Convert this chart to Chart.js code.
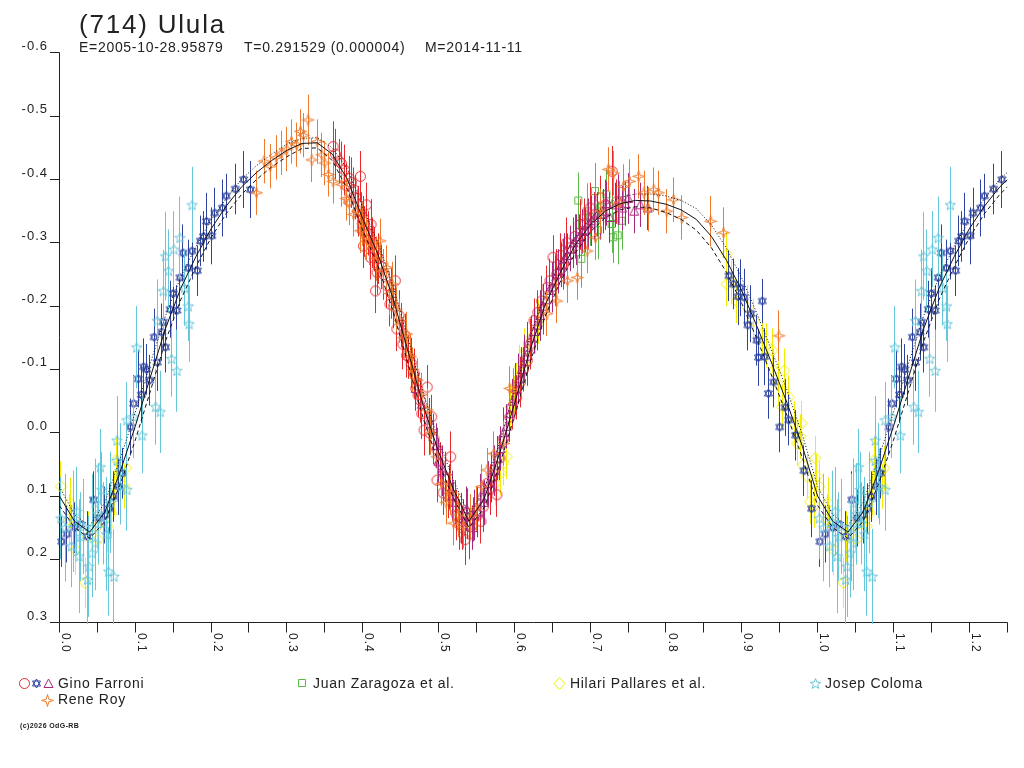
<!DOCTYPE html>
<html lang="es">
<head>
<meta charset="utf-8">
<title>(714) Ulula</title>
<script src="https://cdn.jsdelivr.net/npm/chart.js@4.4.1/dist/chart.umd.min.js"></script>
<style>
  body { margin: 0; background: #fff; }
  #lienzo { position: relative; width: 1024px; height: 768px; overflow: hidden;
            font-family: "Liberation Sans", Arial, sans-serif; color: #222; }
  #grafico { position: absolute; left: 0; top: 0; }
  .texto { position: absolute; white-space: nowrap; line-height: 1; }
  .titulo { left: 79px; top: 11px; font-size: 26px; letter-spacing: 1.8px; }
  .subtitulo { top: 40px; font-size: 14px; letter-spacing: 0.7px; }
  .leyenda { font-size: 14px; letter-spacing: 0.7px; }
  .copy { left: 20px; top: 722px; font-size: 7px; font-weight: bold; letter-spacing: 0.4px; }
  .simbolo { position: absolute; }
</style>
</head>
<body>
<div id="lienzo">
  <canvas id="grafico" width="1024" height="768"></canvas>
  <div class="texto titulo">(714) Ulula</div>
  <div class="texto subtitulo" style="left:79px">E=2005-10-28.95879</div>
  <div class="texto subtitulo" style="left:244px">T=0.291529 (0.000004)</div>
  <div class="texto subtitulo" style="left:425px">M=2014-11-11</div>
  <div class="texto leyenda" style="left:58px;top:676px">Gino Farroni</div>
  <div class="texto leyenda" style="left:58px;top:692px">Rene Roy</div>
  <div class="texto leyenda" style="left:313px;top:676px">Juan Zaragoza et al.</div>
  <div class="texto leyenda" style="left:570px;top:676px">Hilari Pallares et al.</div>
  <div class="texto leyenda" style="left:825px;top:676px">Josep Coloma</div>
  <div class="texto copy">(c)2026 OdG-RB</div>
</div>
<script>
// curva de ajuste (fase, magnitud) y su banda
const fasesAjuste = [0.00, 0.02, 0.04, 0.06, 0.08, 0.10, 0.12, 0.14, 0.16, 0.18,
  0.20, 0.22, 0.24, 0.26, 0.28, 0.30, 0.32, 0.34, 0.36, 0.38,
  0.40, 0.42, 0.44, 0.46, 0.48, 0.50, 0.52, 0.54, 0.56, 0.58,
  0.60, 0.62, 0.64, 0.66, 0.68, 0.70, 0.72, 0.74, 0.76, 0.78,
  0.80, 0.82, 0.84, 0.86, 0.88, 0.90, 0.92, 0.94, 0.96, 0.98, 1.00];
const magAjuste = [0.100, 0.140, 0.157, 0.125, 0.062, -0.010, -0.088, -0.165, -0.228, -0.278,
  -0.322, -0.358, -0.388, -0.411, -0.430, -0.446, -0.457, -0.458, -0.440, -0.400,
  -0.338, -0.282, -0.212, -0.128, -0.042, 0.030, 0.090, 0.140, 0.105, 0.035,
  -0.045, -0.128, -0.200, -0.252, -0.296, -0.328, -0.350, -0.362, -0.367, -0.366,
  -0.361, -0.352, -0.337, -0.310, -0.272, -0.224, -0.168, -0.108, -0.046, 0.022, 0.100];
const magAjusteSup = [0.085, 0.130, 0.147, 0.110, 0.042, -0.032, -0.110, -0.185, -0.246, -0.294,
  -0.336, -0.370, -0.400, -0.422, -0.440, -0.456, -0.465, -0.466, -0.450, -0.416,
  -0.356, -0.300, -0.232, -0.148, -0.062, 0.012, 0.076, 0.130, 0.091, 0.017,
  -0.065, -0.148, -0.218, -0.267, -0.309, -0.339, -0.360, -0.372, -0.377, -0.377,
  -0.374, -0.367, -0.354, -0.328, -0.291, -0.244, -0.188, -0.128, -0.066, 0.004, 0.085];
const magAjusteInf = [0.115, 0.150, 0.167, 0.140, 0.082, 0.012, -0.066, -0.145, -0.210, -0.262,
  -0.308, -0.346, -0.376, -0.400, -0.420, -0.436, -0.449, -0.450, -0.430, -0.384,
  -0.320, -0.264, -0.192, -0.108, -0.022, 0.048, 0.104, 0.150, 0.119, 0.053,
  -0.025, -0.108, -0.182, -0.237, -0.283, -0.317, -0.340, -0.352, -0.357, -0.355,
  -0.348, -0.337, -0.320, -0.292, -0.253, -0.204, -0.148, -0.088, -0.026, 0.040, 0.115];

// observaciones: [fase, magnitud, error]
const farroniCirculos = [[0.361,-0.452,0.040],[0.369,-0.429,0.035],[0.382,-0.402,0.035],[0.397,-0.405,0.040],
  [0.388,-0.384,0.035],[0.405,-0.360,0.035],[0.382,-0.366,0.035],[0.401,-0.339,0.035],[0.411,-0.329,0.040],
  [0.401,-0.295,0.035],[0.410,-0.277,0.035],[0.419,-0.253,0.035],[0.417,-0.224,0.035],[0.443,-0.240,0.040],
  [0.436,-0.203,0.035],[0.445,-0.164,0.035],[0.456,-0.153,0.035],[0.458,-0.122,0.035],[0.468,-0.093,0.040],
  [0.470,-0.070,0.035],[0.485,-0.072,0.035],[0.476,-0.051,0.035],[0.491,-0.025,0.035],[0.481,-0.004,0.040],
  [0.498,0.027,0.035],[0.516,0.038,0.040],[0.498,0.075,0.035],[0.506,0.095,0.035],[0.520,0.117,0.040],
  [0.535,0.169,0.040],[0.546,0.137,0.035],[0.559,0.117,0.040],[0.577,0.098,0.035],[0.564,0.080,0.035],
  [0.573,0.059,0.035],[0.594,-0.025,0.040],[0.603,-0.056,0.035],[0.617,-0.114,0.040],[0.626,-0.177,0.035],
  [0.636,-0.208,0.040],[0.643,-0.229,0.035],[0.651,-0.277,0.035],[0.665,-0.266,0.040],[0.674,-0.292,0.035],
  [0.687,-0.329,0.040],[0.700,-0.355,0.040],[0.714,-0.371,0.035],[0.729,-0.413,0.040],[0.528,0.145,0.040],
  [0.552,0.130,0.035],[0.541,0.160,0.040],
  [0.364,-0.440,0.040],[0.372,-0.425,0.035],[0.376,-0.415,0.040],[0.379,-0.390,0.035],[0.385,-0.395,0.040],
  [0.391,-0.372,0.035],[0.394,-0.350,0.040],[0.398,-0.345,0.035],[0.403,-0.318,0.040],[0.407,-0.315,0.035],
  [0.413,-0.300,0.040],[0.416,-0.290,0.035],[0.421,-0.275,0.040],[0.425,-0.262,0.035],[0.428,-0.250,0.040],
  [0.432,-0.232,0.035],[0.438,-0.220,0.040],[0.441,-0.200,0.035],[0.448,-0.185,0.040],[0.451,-0.170,0.035],
  [0.453,-0.140,0.040],[0.461,-0.120,0.035],[0.464,-0.110,0.040],[0.473,-0.060,0.035],[0.478,-0.030,0.040],
  [0.488,0.000,0.035],[0.494,0.010,0.040],[0.502,0.050,0.035],[0.509,0.070,0.040],[0.513,0.100,0.035],
  [0.524,0.130,0.040],[0.531,0.150,0.035],[0.538,0.128,0.040],[0.556,0.140,0.035],[0.568,0.090,0.040],
  [0.581,0.040,0.035],[0.586,0.010,0.040],[0.597,-0.040,0.035],[0.608,-0.080,0.040],[0.612,-0.100,0.035],
  [0.621,-0.140,0.040],[0.631,-0.190,0.035],[0.639,-0.195,0.040],[0.647,-0.240,0.035],[0.656,-0.250,0.040],
  [0.661,-0.280,0.035],[0.669,-0.300,0.040],[0.680,-0.310,0.035],[0.693,-0.330,0.040],[0.706,-0.345,0.035],
  [0.720,-0.360,0.040],[0.735,-0.365,0.035]];
const farroniEstrellas = [[0.243,-0.400,0.045],[0.252,-0.384,0.045],[0.220,-0.374,0.035],[0.205,-0.347,0.040],
  [0.194,-0.334,0.045],[0.201,-0.311,0.045],[0.186,-0.303,0.040],[0.175,-0.287,0.045],[0.163,-0.284,0.045],
  [0.182,-0.256,0.040],[0.159,-0.245,0.045],[0.146,-0.195,0.045],[0.155,-0.193,0.040],[0.135,-0.159,0.045],
  [0.125,-0.151,0.045],[0.140,-0.135,0.040],[0.129,-0.111,0.045],[0.111,-0.104,0.045],[0.104,-0.085,0.045],
  [0.119,-0.083,0.040],[0.098,-0.046,0.045],[0.094,-0.009,0.045],[0.083,0.064,0.040],[0.071,0.101,0.040],
  [0.045,0.106,0.045],[0.003,0.172,0.040],[0.037,0.164,0.040],[0.060,0.130,0.045],[0.020,0.150,0.040],
  [0.883,-0.248,0.040],[0.889,-0.235,0.040],[0.898,-0.229,0.045],[0.903,-0.214,0.045],[0.912,-0.188,0.045],
  [0.927,-0.208,0.035],[0.920,-0.146,0.040],[0.922,-0.119,0.045],[0.935,-0.062,0.040],[0.950,-0.009,0.040],
  [0.962,-0.020,0.040],[0.971,0.004,0.040],
  [0.010,0.160,0.045],[0.028,0.145,0.040],[0.052,0.135,0.045],[0.066,0.120,0.040],[0.078,0.085,0.045],
  [0.108,-0.060,0.045],[0.115,-0.100,0.040],[0.137,-0.175,0.045],[0.150,-0.220,0.040],[0.170,-0.260,0.045],
  [0.190,-0.310,0.040],[0.215,-0.355,0.045],[0.232,-0.385,0.040],[0.895,-0.215,0.045],[0.908,-0.170,0.040],
  [0.930,-0.120,0.045],[0.942,-0.080,0.040],[0.957,-0.040,0.045],[0.982,0.060,0.040],[0.992,0.120,0.045]];
const farroniTriangulos = [[0.470,-0.070,0.035],[0.478,-0.045,0.035],[0.488,-0.020,0.035],[0.497,0.020,0.035],
  [0.505,0.060,0.040],[0.514,0.085,0.035],[0.522,0.110,0.035],[0.530,0.135,0.040],[0.537,0.120,0.035],
  [0.545,0.150,0.035],[0.552,0.125,0.040],[0.560,0.110,0.035],[0.566,0.080,0.035],[0.574,0.060,0.040],
  [0.582,0.025,0.035],[0.590,-0.010,0.035],[0.598,-0.050,0.035],[0.606,-0.085,0.040],[0.614,-0.120,0.035],
  [0.622,-0.150,0.035],[0.630,-0.170,0.040],[0.638,-0.200,0.035],[0.646,-0.225,0.035],[0.654,-0.240,0.040],
  [0.662,-0.265,0.035],[0.670,-0.280,0.035],[0.678,-0.300,0.040],[0.686,-0.310,0.035],[0.694,-0.320,0.035],
  [0.702,-0.335,0.040],[0.710,-0.345,0.035],[0.718,-0.350,0.035],[0.726,-0.340,0.040],[0.734,-0.360,0.035],
  [0.742,-0.355,0.035],[0.750,-0.370,0.040],[0.758,-0.350,0.035],[0.766,-0.360,0.035],[0.776,-0.355,0.035],
  [0.500,0.045,0.035],[0.518,0.100,0.040],[0.533,0.140,0.035],[0.548,0.130,0.040],[0.556,0.100,0.035],
  [0.570,0.070,0.040],[0.578,0.040,0.035],[0.586,0.000,0.040],[0.594,-0.030,0.035],[0.602,-0.070,0.040],
  [0.610,-0.100,0.035],[0.618,-0.135,0.040],[0.626,-0.160,0.035],[0.634,-0.185,0.040],[0.642,-0.210,0.035],
  [0.650,-0.230,0.040],[0.658,-0.255,0.035],[0.666,-0.275,0.040],[0.674,-0.290,0.035],[0.682,-0.305,0.040],
  [0.690,-0.318,0.035],[0.698,-0.330,0.040],[0.706,-0.340,0.035],[0.714,-0.345,0.040],[0.722,-0.362,0.035],
  [0.738,-0.368,0.040],[0.746,-0.362,0.035]];
const zaragoza = [[0.685,-0.366,0.045],[0.707,-0.381,0.045],[0.700,-0.340,0.045],[0.693,-0.319,0.040],
  [0.689,-0.274,0.045],[0.714,-0.355,0.045],[0.722,-0.376,0.040],[0.729,-0.329,0.045],[0.737,-0.311,0.045],
  [0.731,-0.308,0.040],[0.742,-0.334,0.045],[0.711,-0.319,0.045],[0.696,-0.349,0.045]];
const pallares = [[0.595,-0.041,0.035],[0.617,-0.130,0.035],[0.586,0.048,0.035],[0.628,-0.160,0.035],
  [0.622,-0.150,0.030],[0.612,-0.110,0.035],[0.607,-0.104,0.035],[0.600,-0.060,0.030],[0.590,0.038,0.035],
  [0.582,0.064,0.035],[0.880,-0.282,0.035],[0.880,-0.235,0.035],[0.886,-0.238,0.035],[0.893,-0.208,0.035],
  [0.907,-0.198,0.035],[0.916,-0.177,0.035],[0.927,-0.156,0.035],[0.933,-0.138,0.035],[0.940,-0.130,0.035],
  [0.942,-0.098,0.035],[0.956,-0.098,0.035],[0.948,-0.077,0.035],[0.962,-0.056,0.035],[0.953,-0.041,0.035],
  [0.969,-0.015,0.035],[0.979,-0.015,0.035],[0.977,0.006,0.035],[0.973,0.017,0.035],[0.997,0.040,0.035],
  [0.981,0.051,0.035],[0.986,0.069,0.035],[0.999,0.069,0.035],[0.990,0.109,0.035],[0.996,0.115,0.035],
  [0.013,0.137,0.040],[0.021,0.185,0.040],[0.034,0.237,0.040],[0.038,0.164,0.040],[0.050,0.148,0.040],
  [0.051,0.169,0.040],[0.064,0.148,0.040],[0.069,0.127,0.040],[0.075,0.043,0.035],[0.088,0.056,0.035],
  [0.086,0.085,0.035],[0.073,0.095,0.035],[0.002,0.085,0.040],[0.014,0.111,0.040],
  [0.575,0.080,0.035],[0.603,-0.075,0.035],[0.614,-0.130,0.035],[0.632,-0.175,0.035]];
const coloma = [[0.175,-0.360,0.060],[0.159,-0.308,0.065],[0.140,-0.279,0.070],[0.144,-0.256,0.065],
  [0.151,-0.290,0.060],[0.137,-0.224,0.065],[0.170,-0.200,0.055],[0.171,-0.172,0.060],[0.165,-0.229,0.060],
  [0.129,-0.177,0.065],[0.102,-0.135,0.065],[0.148,-0.117,0.060],[0.155,-0.098,0.065],[0.127,-0.041,0.060],
  [0.133,-0.033,0.065],[0.109,0.004,0.060],[0.098,-0.025,0.065],[0.076,0.012,0.070],[0.054,0.054,0.060],
  [0.089,0.090,0.065],[0.081,0.085,0.060],[0.056,0.090,0.060],[0.047,0.111,0.070],[0.002,0.135,0.065],
  [0.023,0.124,0.070],[0.032,0.148,0.075],[0.016,0.179,0.065],[0.039,0.211,0.080],[0.037,0.232,0.070],
  [0.065,0.219,0.070],[0.072,0.227,0.075],[0.043,0.190,0.070],[0.047,0.174,0.075],[0.028,0.164,0.070],
  [0.058,0.143,0.065],[0.089,-0.020,0.060],[0.076,0.044,0.065],
  [0.008,0.150,0.085],[0.019,0.140,0.080],[0.026,0.195,0.090],[0.044,0.150,0.085],[0.051,0.128,0.080],
  [0.062,0.160,0.090],[0.068,0.110,0.080],[0.080,0.060,0.075]];
const roy = [[0.260,-0.379,0.035],[0.270,-0.429,0.035],[0.278,-0.421,0.035],[0.293,-0.442,0.035],
  [0.306,-0.460,0.035],[0.318,-0.476,0.035],[0.328,-0.494,0.040],[0.333,-0.431,0.035],[0.340,-0.460,0.035],
  [0.346,-0.439,0.035],[0.350,-0.426,0.035],[0.355,-0.408,0.035],[0.361,-0.397,0.035],[0.382,-0.363,0.035],
  [0.393,-0.350,0.035],[0.397,-0.319,0.035],[0.405,-0.308,0.035],[0.414,-0.292,0.035],[0.423,-0.303,0.035],
  [0.432,-0.261,0.035],[0.439,-0.235,0.035],[0.449,-0.177,0.035],[0.458,-0.156,0.035],[0.472,-0.083,0.035],
  [0.485,-0.036,0.035],[0.498,0.038,0.035],[0.504,0.080,0.035],[0.516,0.095,0.035],[0.520,0.143,0.035],
  [0.533,0.148,0.035],[0.542,0.132,0.035],[0.564,0.059,0.035],[0.573,0.033,0.035],[0.586,0.017,0.035],
  [0.599,-0.067,0.035],[0.594,-0.070,0.035],[0.643,-0.188,0.035],[0.656,-0.208,0.035],[0.670,-0.240,0.035],
  [0.683,-0.245,0.035],[0.696,-0.287,0.035],[0.707,-0.308,0.035],[0.714,-0.350,0.035],[0.724,-0.416,0.035],
  [0.731,-0.410,0.035],[0.744,-0.389,0.035],[0.752,-0.397,0.035],[0.764,-0.405,0.035],[0.771,-0.379,0.035],
  [0.784,-0.384,0.035],[0.790,-0.379,0.035],[0.777,-0.353,0.035],[0.801,-0.350,0.035],[0.810,-0.368,0.035],
  [0.821,-0.340,0.035],[0.859,-0.334,0.040],[0.876,-0.316,0.040],[0.949,-0.153,0.040],[0.739,-0.363,0.035],
  [0.372,-0.392,0.035],[0.378,-0.370,0.035],[0.388,-0.345,0.035],[0.400,-0.330,0.035],[0.409,-0.300,0.035],
  [0.418,-0.275,0.035],[0.427,-0.255,0.035],[0.436,-0.220,0.035],[0.444,-0.195,0.035],[0.454,-0.150,0.035],
  [0.463,-0.120,0.035],[0.466,-0.100,0.035],[0.478,-0.060,0.035],[0.490,0.000,0.035],[0.510,0.110,0.035],
  [0.526,0.130,0.035],[0.550,0.120,0.035],[0.557,0.085,0.035],[0.286,-0.435,0.035],[0.300,-0.448,0.035],
  [0.313,-0.455,0.035],[0.322,-0.470,0.035]];

const etiquetasY = ['-0.6', '-0.5', '-0.4', '-0.3', '-0.2', '-0.1', '0.0', '0.1', '0.2', '0.3'];
const etiquetasX = ['0.0', '0.1', '0.2', '0.3', '0.4', '0.5', '0.6', '0.7', '0.8', '0.9', '1.0', '1.1', '1.2'];

// las fases 0..0.25 se repiten despues de 1
function envolver(obs) {
  const puntos = obs.map(p => ({ x: p[0], y: p[1], e: p[2] }));
  obs.filter(p => p[0] <= 0.25).forEach(p => puntos.push({ x: p[0] + 1, y: p[1], e: p[2] }));
  return puntos;
}

function puntosCurva(mags) {
  const pts = fasesAjuste.map((f, i) => ({ x: f, y: mags[i] }));
  fasesAjuste.forEach((f, i) => { if (f > 0 && f <= 0.26) pts.push({ x: f + 1, y: mags[i] }); });
  return pts;
}

function crearSimbolo(tipo, color) {
  const c = document.createElement('canvas');
  c.width = 15; c.height = 15;
  const g = c.getContext('2d');
  g.strokeStyle = color; g.lineWidth = 1;
  const m = 7.5;
  g.beginPath();
  if (tipo === 'circulo') {
    g.arc(m, m, 5, 0, Math.PI * 2);
  } else if (tipo === 'cuadrado') {
    g.rect(3.5, 3.5, 7, 7);
  } else if (tipo === 'triangulo') {
    g.moveTo(m, 3); g.lineTo(12, 11.5); g.lineTo(3, 11.5); g.closePath();
  } else if (tipo === 'rombo') {
    g.moveTo(m, 1.5); g.lineTo(13, m); g.lineTo(m, 13.5); g.lineTo(2, m); g.closePath();
  } else if (tipo === 'hexagrama') {
    g.moveTo(m, 3); g.lineTo(11.5, 10); g.lineTo(3.5, 10); g.closePath();
    g.moveTo(m, 12); g.lineTo(11.5, 5); g.lineTo(3.5, 5); g.closePath();
  } else if (tipo === 'estrella') {
    for (let k = 0; k < 10; k++) {
      const r = k % 2 ? 2.3 : 5.5, a = -Math.PI / 2 + k * Math.PI / 5;
      g.lineTo(m + r * Math.cos(a), m + 0.5 + r * Math.sin(a));
    }
    g.closePath();
  } else if (tipo === 'estrella4') {
    for (let k = 0; k < 8; k++) {
      const r = k % 2 ? 1.8 : 6, a = -Math.PI / 2 + k * Math.PI / 4;
      g.lineTo(m + r * Math.cos(a), m + r * Math.sin(a));
    }
    g.closePath();
  }
  g.stroke();
  return c;
}

const colores = {
  rojo: '#e8282c', azul: '#2e44a0', morado: '#a8287e', verde: '#5cb848',
  amarillo: '#f4ec00', celeste: '#66c6da', naranja: '#f07a2c'
};

const simbolos = {
  circulo: crearSimbolo('circulo', colores.rojo),
  hexagrama: crearSimbolo('hexagrama', colores.azul),
  triangulo: crearSimbolo('triangulo', colores.morado),
  cuadrado: crearSimbolo('cuadrado', colores.verde),
  rombo: crearSimbolo('rombo', colores.amarillo),
  estrella: crearSimbolo('estrella', colores.celeste),
  estrella4: crearSimbolo('estrella4', colores.naranja)
};

// simbolos de la leyenda
function ponerSimbolo(nombre, cx, cy) {
  const c = document.createElement('canvas');
  c.width = 15; c.height = 15;
  c.className = 'simbolo';
  c.style.left = (cx - 7) + 'px';
  c.style.top = (cy - 7) + 'px';
  c.getContext('2d').drawImage(simbolos[nombre], 0, 0);
  document.getElementById('lienzo').appendChild(c);
}
ponerSimbolo('circulo', 24, 683);
ponerSimbolo('hexagrama', 36, 683);
ponerSimbolo('triangulo', 48, 683);
ponerSimbolo('estrella4', 47, 700);
ponerSimbolo('cuadrado', 302, 683);
ponerSimbolo('rombo', 559, 683);
ponerSimbolo('estrella', 815, 683);

// barras de error verticales, del color de cada serie
const barrasError = {
  id: 'barrasError',
  beforeDatasetDraw(chart, args) {
    const ds = chart.data.datasets[args.index];
    if (!ds.conError) return;
    const escalaY = chart.scales.y;
    const ctx = chart.ctx;
    ctx.save();
    ctx.strokeStyle = ds.borderColor;
    ctx.lineWidth = 1;
    ctx.beginPath();
    args.meta.data.forEach((el, i) => {
      const p = ds.data[i];
      const px = Math.floor(el.x) + 0.5;
      ctx.moveTo(px, escalaY.getPixelForValue(p.y - p.e));
      ctx.lineTo(px, escalaY.getPixelForValue(p.y + p.e));
    });
    ctx.stroke();
    ctx.restore();
  }
};

// ejes, marcas y etiquetas
const ejes = {
  id: 'ejes',
  beforeDatasetsDraw(chart) {
    const { ctx, chartArea: a, scales: { x, y } } = chart;
    const ax = Math.floor(a.left) + 0.5;
    const ay = Math.floor(a.bottom) + 0.5;
    ctx.save();
    ctx.strokeStyle = '#222';
    ctx.fillStyle = '#222';
    ctx.lineWidth = 1;
    ctx.beginPath();
    ctx.moveTo(ax, Math.floor(a.top) + 0.5);
    ctx.lineTo(ax, ay);
    ctx.lineTo(Math.floor(a.right) + 0.5, ay);
    etiquetasY.forEach(t => {
      const py = Math.floor(y.getPixelForValue(parseFloat(t))) + 0.5;
      ctx.moveTo(ax - 9.5, py);
      ctx.lineTo(ax, py);
    });
    for (let i = 0; i <= 25; i++) {
      const px = Math.floor(x.getPixelForValue(i * 0.05)) + 0.5;
      ctx.moveTo(px, ay);
      ctx.lineTo(px, ay + 10);
    }
    ctx.stroke();

    ctx.font = '13px "Liberation Sans", Arial, sans-serif';
    ctx.letterSpacing = '1px';
    ctx.textAlign = 'right';
    ctx.textBaseline = 'alphabetic';
    etiquetasY.forEach(t => {
      const py = y.getPixelForValue(parseFloat(t));
      ctx.fillText(t, ax - 11.5, py - 3);
    });

    ctx.font = '12px "Liberation Sans", Arial, sans-serif';
    ctx.letterSpacing = '1px';
    ctx.textAlign = 'left';
    etiquetasX.forEach(t => {
      const px = x.getPixelForValue(parseFloat(t));
      ctx.save();
      ctx.translate(px + 2.6, ay + 10.5);
      ctx.rotate(Math.PI / 2);
      ctx.fillText(t, 0, 0);
      ctx.restore();
    });
    ctx.restore();
  }
};

function serie(nombre, obs, simbolo, color, orden) {
  return {
    label: nombre, data: envolver(obs), pointStyle: simbolos[simbolo], pointRadius: 6,
    borderColor: color, backgroundColor: 'transparent', order: orden, clip: false, conError: true
  };
}

function curva(mags, trazo, orden) {
  return {
    label: 'ajuste', data: puntosCurva(mags), showLine: true, pointRadius: 0,
    borderColor: '#111', borderWidth: 1, borderDash: trazo, order: orden, clip: 0
  };
}

const ctx = document.getElementById('grafico').getContext('2d');
new Chart(ctx, {
  type: 'scatter',
  data: {
    datasets: [
      curva(magAjuste, [], 0),
      curva(magAjusteSup, [1, 2], 0),
      curva(magAjusteInf, [4, 3], 0),
      serie('Rene Roy', roy, 'estrella4', colores.naranja, 1),
      serie('Gino Farroni', farroniTriangulos, 'triangulo', colores.morado, 2),
      serie('Gino Farroni', farroniCirculos, 'circulo', colores.rojo, 3),
      serie('Juan Zaragoza et al.', zaragoza, 'cuadrado', colores.verde, 4),
      serie('Josep Coloma', coloma, 'estrella', colores.celeste, 5),
      serie('Gino Farroni', farroniEstrellas, 'hexagrama', colores.azul, 6),
      serie('Hilari Pallares et al.', pallares, 'rombo', colores.amarillo, 7)
    ]
  },
  options: {
    responsive: false,
    animation: false,
    devicePixelRatio: 1,
    events: [],
    layout: { padding: { left: 59.4, top: 52.9, right: 16.8, bottom: 145.4 } },
    scales: {
      x: { type: 'linear', min: 0, max: 1.25, display: false },
      y: { type: 'linear', min: -0.6, max: 0.3, reverse: true, display: false }
    },
    plugins: {
      legend: { display: false },
      tooltip: { enabled: false }
    }
  },
  plugins: [ejes, barrasError]
});
</script>
</body>
</html>
